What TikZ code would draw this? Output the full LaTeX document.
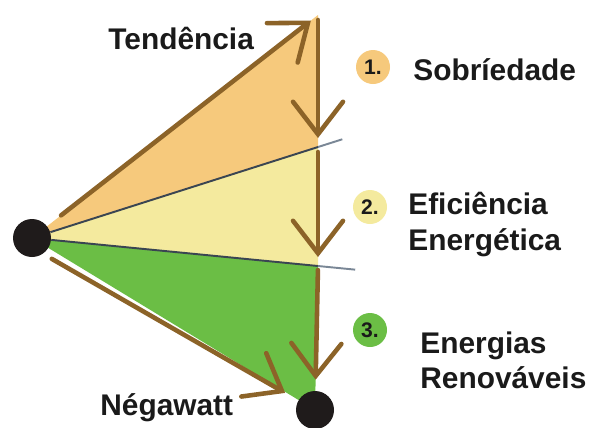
\documentclass[tikz,border=0pt]{standalone}
\usepackage{fontspec}
\setmainfont{Liberation Sans}
\usepackage{xcolor}
\usetikzlibrary{arrows.meta,calc,backgrounds}
\definecolor{ngBrown}{HTML}{8C6328}
\definecolor{ngOrange}{HTML}{F6C97C}
\definecolor{ngYellow}{HTML}{F4EA9E}
\definecolor{ngGreen}{HTML}{6BBE45}
\definecolor{ngDot}{HTML}{1F1B1B}
\definecolor{ngLine}{HTML}{3A4552}
\definecolor{ngFade}{HTML}{7A8796}
\definecolor{ngInk}{HTML}{1A1A1A}

\begin{document}
\begin{tikzpicture}[
  x=0.02cm, y=-0.02cm,
  font=\bfseries\fontsize{17}{20}\selectfont,
  dot/.style={circle, fill=ngDot, minimum size=0.76cm, inner sep=0pt},
  badge/.style={circle, minimum size=0.68cm, inner sep=0pt, text=ngInk,
                font=\bfseries\fontsize{12}{12}\selectfont},
  flow/.style={draw=ngBrown, line width=2.6pt, line cap=round,
               -{Straight Barb[length=6.5mm,width=10mm,line cap=round]}},
  cut/.style={draw=ngLine, line width=1.1pt},
  cutfade/.style={draw=ngFade, line width=1.1pt},
  lbl/.style={text=ngInk, align=left, anchor=west, inner sep=0pt},
]
\useasboundingbox (0,0) rectangle (590,427);

% ── Points of the fan ─────────────────────────────────────────────────────────
\node[dot] (start) at (32,238) {};
\node[dot] (nega)  at (315,410) {};
\coordinate (apex) at (318,15);
\coordinate (cut1) at (318,147);
\coordinate (cut2) at (318,266);

% ── Coloured wedges (drawn behind) ───────────────────────────────────────────
\begin{scope}[on background layer]
  \fill[ngOrange] (start.center) -- (apex) -- (cut1) -- cycle;
  \fill[ngYellow] (start.center) -- (cut1) -- (cut2) -- cycle;
  \fill[ngGreen]  (start.center) -- (cut2) -- (nega.center) -- cycle;
\end{scope}

% ── Dividing lines ───────────────────────────────────────────────────────────
\draw[cut] (start) -- (cut1);
\draw[cutfade] (cut1) -- ($(start)!1.085!(cut1)$);
\draw[cut] (start) -- (cut2);
\draw[cutfade] (cut2) -- ($(start)!1.13!(cut2)$);

% ── Brown arrows ─────────────────────────────────────────────────────────────
\draw[flow, shorten <=0.35cm, shorten >=0.18cm] (start) -- (apex);
\draw[flow, shorten <=0.1cm, shorten >=0.18cm] (apex) -- (cut1);
\draw[flow, shorten <=0.1cm, shorten >=0.18cm] (cut1) -- (cut2);
\draw[flow, shorten <=0.08cm, shorten >=0.22cm] (cut2) -- (nega);
\draw[flow, shorten <=0.2cm, shorten >=0.3cm] (start.-55) -- (nega);

% ── End labels ───────────────────────────────────────────────────────────────
\node[lbl] (tend) at (108,38)  {Tendência};
\node[lbl] (negl) at (100,408) {Négawatt};

% ── Numbered steps ───────────────────────────────────────────────────────────
\node[badge, fill=ngOrange] (b1) at (373,67)  {1.};
\node[badge, fill=ngYellow] (b2) at (370,207) {2.};
\node[badge, fill=ngGreen]  (b3) at (370,330) {3.};
\node[lbl] (sob) at (413,70)    {Sobríedade};
\node[lbl] (efi) at (408,224.5) {Eficiência\\Energética};
\node[lbl] (ren) at (420,360.5) {Energias\\Renováveis};

\end{tikzpicture}
\end{document}
